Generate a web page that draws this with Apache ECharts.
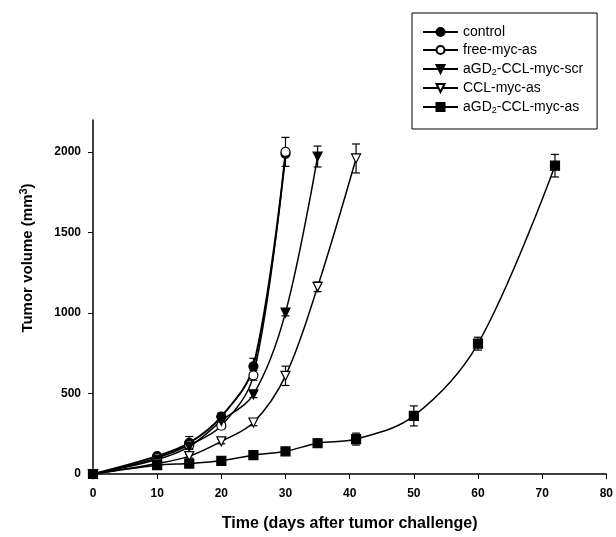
<!DOCTYPE html>
<html>
<head>
<meta charset="utf-8">
<script src="https://cdn.jsdelivr.net/npm/echarts@6/dist/echarts.min.js"></script>
<style>
  html, body { margin: 0; padding: 0; background: #fff; }
  #chart { width: 616px; height: 537px; }
</style>
</head>
<body>
<div id="chart"></div>
<script>
const seriesNames = ['control', 'free-myc-as', 'aGD2-CCL-myc-scr', 'CCL-myc-as', 'aGD2-CCL-myc-as'];

// [day, volume]
const control = [[0, 0], [10, 111], [15, 193], [20, 357], [25, 669], [30, 1990]];
const freeMycAs = [[0, 0], [10, 100], [15, 180], [20, 300], [25, 613], [30, 2002]];
const aGD2Scr = [[0, 0], [10, 90], [15, 170], [20, 330], [25, 495], [30, 1003], [35, 1973]];
const cclMycAs = [[0, 0], [10, 65], [15, 111], [20, 203], [25, 320], [30, 610], [35, 1163], [41, 1961]];
const aGD2MycAs = [[0, 0], [10, 55], [15, 65], [20, 82], [25, 117], [30, 141], [35, 191], [41, 217], [50, 361], [60, 810], [72, 1916]];

// error bar half-widths, same order as points
const controlErr = [0, 10, 40, 22, 50, 0];
const freeErr = [0, 8, 20, 20, 30, 90];
const scrErr = [0, 8, 15, 15, 20, 20, 65];
const cclErr = [0, 6, 12, 15, 20, 60, 30, 90];
const mycAsErr = [0, 5, 8, 10, 15, 15, 25, 37, 62, 40, 70];

const xTicks = [0, 10, 20, 30, 40, 50, 60, 70, 80];
const yTicks = [0, 500, 1000, 1500, 2000];

const font = 'Arial, "Liberation Sans", sans-serif';

const chart = echarts.init(document.getElementById('chart'));

const lineSeries = (name, data, symbol, fill, width) => ({
  name,
  type: 'line',
  data,
  smooth: 0.35,
  symbol,
  symbolSize: 9,
  showSymbol: true,
  z: 3,
  lineStyle: { color: '#000', width: width || 1.5 },
  itemStyle: { color: fill, borderColor: '#000', borderWidth: 1.2 },
  emphasis: { disabled: true }
});

const errSeries = (data, err) => ({
  type: 'custom',
  z: 2,
  silent: true,
  data: data.map((d, i) => [d[0], d[1], err[i]]),
  renderItem: (params, api) => {
    const e = api.value(2);
    if (!e) return;
    const x = api.value(0), y = api.value(1);
    const top = api.coord([x, y + e]);
    const bot = api.coord([x, y - e]);
    const style = { stroke: '#000', lineWidth: 1.2 };
    return {
      type: 'group',
      children: [
        { type: 'line', shape: { x1: top[0], y1: top[1], x2: bot[0], y2: bot[1] }, style },
        { type: 'line', shape: { x1: top[0] - 4, y1: top[1], x2: top[0] + 4, y2: top[1] }, style },
        { type: 'line', shape: { x1: bot[0] - 4, y1: bot[1], x2: bot[0] + 4, y2: bot[1] }, style }
      ]
    };
  }
});

const downTri = 'path://M0,0 L10,0 L5,9 Z';

// subscript the 2 in aGD2
const legendLabel = (name) => name.indexOf('aGD2') === 0
  ? '{n|aGD}{s|2}{n|' + name.slice(4) + '}'
  : name;

const option = {
  animation: false,
  backgroundColor: '#fff',
  grid: { left: 93, right: 8, top: 120, bottom: 59 },
  legend: {
    data: seriesNames,
    orient: 'vertical',
    left: 412,
    top: 13,
    padding: [12, 14, 14, 10],
    itemWidth: 35,
    itemHeight: 10,
    itemGap: 4,
    borderColor: '#000',
    borderWidth: 1,
    selectedMode: false,
    formatter: legendLabel,
    textStyle: {
      fontFamily: font,
      fontSize: 14,
      lineHeight: 14,
      color: '#000',
      rich: {
        n: { fontFamily: font, fontSize: 14, lineHeight: 14, color: '#000' },
        s: { fontFamily: font, fontSize: 9, lineHeight: 14, color: '#000', padding: [7, 0, 0, 0] }
      }
    }
  },
  xAxis: {
    type: 'value',
    min: 0,
    max: 80,
    interval: 10,
    name: 'Time (days after tumor challenge)',
    nameLocation: 'middle',
    nameGap: 42,
    nameTextStyle: { fontFamily: font, fontSize: 16, fontWeight: 'bold', color: '#000' },
    axisLine: { lineStyle: { color: '#000', width: 1.5 } },
    axisTick: { inside: false, length: 5, lineStyle: { color: '#000' }, customValues: xTicks },
    axisLabel: { fontFamily: font, fontSize: 12, fontWeight: 'bold', color: '#000', margin: 14, customValues: xTicks },
    splitLine: { show: false }
  },
  yAxis: {
    type: 'value',
    min: 0,
    max: 2200,
    interval: 500,
    axisLine: { show: true, lineStyle: { color: '#000', width: 1.5 } },
    axisTick: { show: true, inside: false, length: 5, lineStyle: { color: '#000' }, customValues: yTicks },
    axisLabel: {
      fontFamily: font, fontSize: 12, fontWeight: 'bold', color: '#000', margin: 12,
      customValues: yTicks,
      formatter: (v) => String(v)
    },
    splitLine: { show: false }
  },
  graphic: [{
    type: 'text',
    x: 28,
    y: 258,
    rotation: Math.PI / 2,
    style: {
      text: '{t|Tumor volume (mm}{p|3}{t|)}',
      align: 'center',
      verticalAlign: 'middle',
      fill: '#000',
      rich: {
        t: { fontFamily: font, fontSize: 15, fontWeight: 'bold', fill: '#000' },
        p: { fontFamily: font, fontSize: 11, fontWeight: 'bold', fill: '#000', padding: [0, 0, 9, 0] }
      }
    }
  }],
  series: [
    errSeries(control, controlErr),
    errSeries(freeMycAs, freeErr),
    errSeries(aGD2Scr, scrErr),
    errSeries(cclMycAs, cclErr),
    errSeries(aGD2MycAs, mycAsErr),
    lineSeries('control', control, 'circle', '#000', 2),
    lineSeries('free-myc-as', freeMycAs, 'circle', '#fff'),
    lineSeries('aGD2-CCL-myc-scr', aGD2Scr, downTri, '#000'),
    lineSeries('CCL-myc-as', cclMycAs, downTri, '#fff'),
    lineSeries('aGD2-CCL-myc-as', aGD2MycAs, 'rect', '#000')
  ]
};

chart.setOption(option);
</script>
</body>
</html>
